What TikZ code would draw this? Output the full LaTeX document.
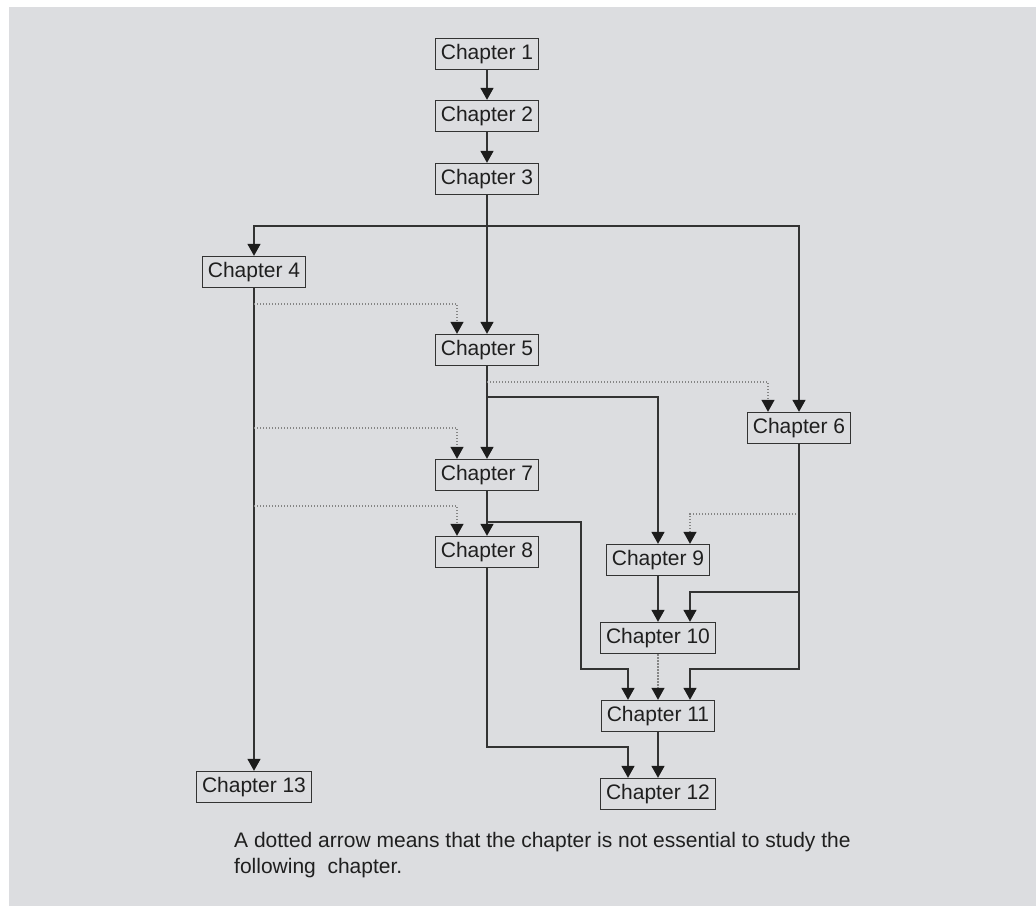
\documentclass[tikz,border=0pt]{standalone}
\usepackage{fontspec}
\setmainfont{Liberation Sans}
\usepackage{tikz}
\usetikzlibrary{arrows.meta,calc}
\definecolor{bggrey}{HTML}{DCDDE0}
\definecolor{linegrey}{HTML}{333333}
\definecolor{dotgrey}{HTML}{858585}
\definecolor{tipblack}{HTML}{1C1C1C}
\begin{document}
\begin{tikzpicture}[x=1pt, y=-1pt,
		chapter/.style={draw=linegrey, line width=1.4pt, fill=bggrey, text=black!88,
			minimum height=31pt, inner xsep=5.5pt, inner ysep=0pt,
			font=\fontsize{21}{24}\selectfont},
		link/.style={draw=linegrey, line width=1.6pt,
			-{Triangle[width=13pt,length=12pt,color=tipblack]}},
		optional/.style={draw=dotgrey, line width=1.3pt, dash pattern=on 1.3pt off 1.7pt,
			-{Triangle[width=13pt,length=12pt,color=tipblack]}}]

		\useasboundingbox (0,0) rectangle (1036,906);
		\fill[bggrey] (9,7) rectangle (1036,906);

		\foreach \n/\x/\y in {1/487/54, 2/487/116, 3/487/179, 4/254/272, 5/487/350,
			6/799/428, 7/487/475, 8/487/552, 9/658/560, 10/658/638, 11/658/716,
			12/658/794, 13/254/787}
		\node [chapter] (ch\n) at (\x,\y) {Chapter \n};

		% bend points
		\coordinate (split3) at (487,226);
		\coordinate (dot4a) at (254,304);
		\coordinate (dot4b) at (254,428);
		\coordinate (dot4c) at (254,506);
		\coordinate (dot5) at (487,382);
		\coordinate (split5) at (487,397);
		\coordinate (split7) at (487,522);
		\coordinate (turn7) at (581,669);
		\coordinate (dot6) at (799,514);
		\coordinate (split6) at (799,592);
		\coordinate (turn6) at (799,669);
		\coordinate (turn8) at (487,747);

		\draw [link] (ch1) -- (ch2);
		\draw [link] (ch2) -- (ch3);
		\draw [link] (ch3) -- (ch5);
		\draw [link] (split3) -| (ch4);
		\draw [link] (split3) -| (ch6);
		\draw [link] (ch4) -- (ch13);

		\draw [optional] (dot4a) -| ([xshift=-30pt]ch5.north);
		\draw [optional] (dot4b) -| ([xshift=-30pt]ch7.north);
		\draw [optional] (dot4c) -| ([xshift=-30pt]ch8.north);

		\draw [link] (ch5) -- (ch7);
		\draw [optional] (dot5) -| ([xshift=-31pt]ch6.north);
		\draw [link] (split5) -| (ch9);

		\draw [link] (ch7) -- (ch8);
		\draw [link] (split7) -| (turn7) -| ([xshift=-30pt]ch11.north);

		\draw [optional] (dot6) -| ([xshift=32pt]ch9.north);
		\draw [link] (split6) -| ([xshift=32pt]ch10.north);
		\draw [link] (ch6) -- (turn6) -| ([xshift=32pt]ch11.north);

		\draw [link] (ch9) -- (ch10);
		\draw [optional] (ch10) -- (ch11);
		\draw [link] (ch8) -- (turn8) -| ([xshift=-30pt]ch12.north);
		\draw [link] (ch11) -- (ch12);

		\node [anchor=north west, align=left, text=black!88, inner sep=0pt,
			font=\fontsize{21}{26}\selectfont] (note) at (234,832)
			{A dotted arrow means that the chapter is not essential to study the\\
			following\ \ chapter.};

\end{tikzpicture}
\end{document}
